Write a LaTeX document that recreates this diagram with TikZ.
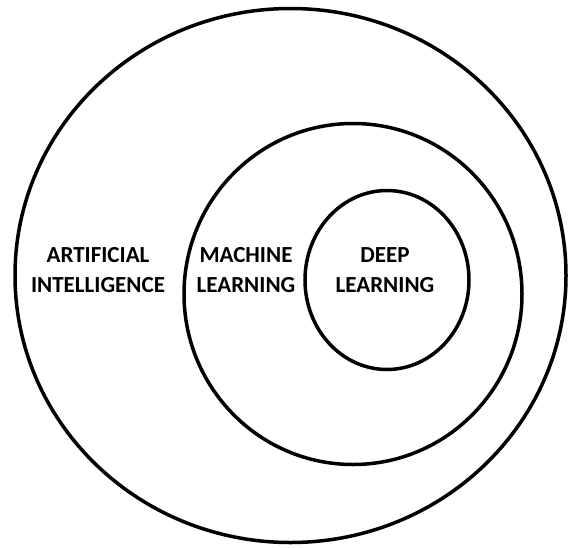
\documentclass[tikz,border=0pt]{standalone}
\usepackage{fontspec}
\setmainfont{Carlito}
\begin{document}
\begin{tikzpicture}[x=1pt,y=-1pt,
  ring/.style={draw=black,line width=3.5pt},
  label/.style={font=\fontsize{23}{30}\selectfont\bfseries,text=black,align=center,inner sep=0pt}]
\useasboundingbox[fill=white] (0,0) rectangle (568,547);
% nested fields
\draw[ring] (290.5,275.5) ellipse [x radius=275.5, y radius=267];
\draw[ring] (353,294) ellipse [x radius=169, y radius=170.5];
\draw[ring] (387,280) ellipse [x radius=82, y radius=89.5];
% field names
\node[label] (ai) at (98,270) {ARTIFICIAL\\INTELLIGENCE};
\node[label] (ml) at (246,270) {MACHINE\\LEARNING};
\node[label] (dl) at (385,270) {DEEP\\LEARNING};
\end{tikzpicture}
\end{document}
